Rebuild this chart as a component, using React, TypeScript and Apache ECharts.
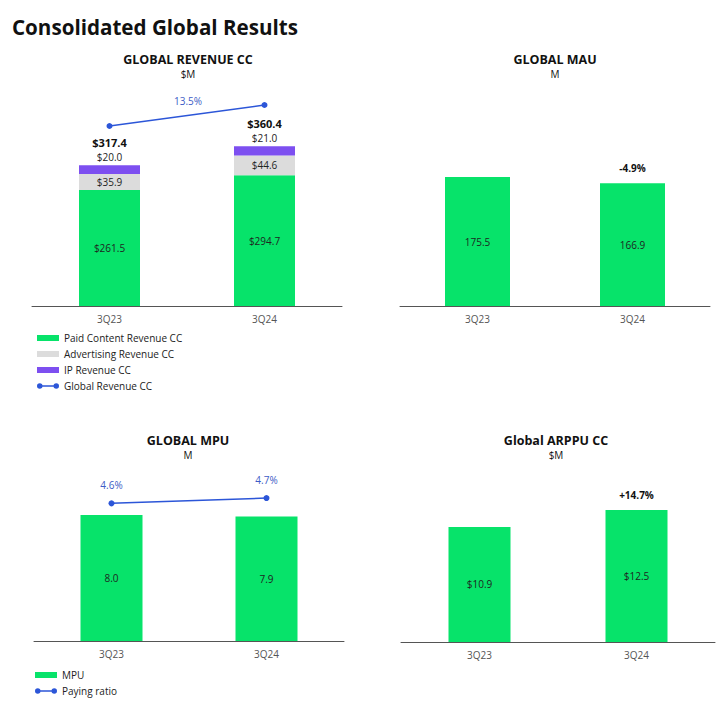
import React, { useEffect, useRef } from "react";
import * as echarts from "echarts";

const quarters = ["3Q23", "3Q24"];
const paidContentRevenue = [261.5, 294.7];
const advertisingRevenue = [35.9, 44.6];
const ipRevenue = [20.0, 21.0];
const globalRevenue = [317.4, 360.4];
const revenueGrowth = "13.5%";
const globalMau = [175.5, 166.9];
const mauChange = ["", "-4.9%"];
const globalMpu = [8.0, 7.9];
const payingRatio = [4.6, 4.7];
const arppu = [10.9, 12.5];
const arppuChange = ["", "+14.7%"];

const GREEN = "#07e36a";
const GRAY = "#dcdcdc";
const PURPLE = "#7d4ff0";
const BLUE = "#2c56d8";
const LABEL_BLUE = "#3d5cc6";
const DARK = "#1e261f";
const FONT = "'Open Sans', 'Noto Sans', sans-serif";

const lineIcon =
  "path://M0,3a3,3 0 1,1 6,0a3,3 0 1,1 -6,0Z M18,3a3,3 0 1,1 6,0a3,3 0 1,1 -6,0Z M5.5,2.3H18.5V3.7H5.5Z";

export default function App() {
  const ref = useRef<HTMLDivElement>(null);

  useEffect(() => {
    if (!ref.current) return;
    const chart = echarts.init(ref.current, null, { renderer: "svg" });

    const xAxisBase = (gridIndex: number) => ({
      type: "category",
      gridIndex,
      data: quarters,
      axisLine: { lineStyle: { color: "#555", width: 1 } },
      axisTick: { show: false },
      axisLabel: { color: "#555", fontSize: 10, fontFamily: FONT, margin: 8 },
    });
    const yHidden = (gridIndex: number, min: number, max: number) => ({
      type: "value",
      gridIndex,
      min,
      max,
      show: false,
      splitLine: { show: false },
    });
    const fmt1 = (p: any) => p.value.toFixed(1);
    const fmtDollar = (p: any) => "$" + p.value.toFixed(1);
    const inside = (formatter: any) => ({
      show: true,
      position: "inside",
      formatter,
      color: DARK,
      fontSize: 10,
      fontFamily: FONT,
    });

    const titleText = (x: number, y: number, text: string, bold: boolean, size: number) => ({
      type: "text",
      x,
      y,
      style: {
        text,
        fill: "#111",
        font: `${bold ? "bold " : ""}${size}px ${FONT}`,
        textAlign: "center",
        textVerticalAlign: "middle",
      },
    });

    const legendText = { fontSize: 10, color: "#222", fontFamily: FONT };
    const lineLegendStyle = { color: BLUE, borderColor: BLUE, borderWidth: 0 };

    const option: any = {
      animation: false,
      backgroundColor: "#ffffff",
      textStyle: { fontFamily: FONT },
      grid: [
        { left: 32, top: 90, width: 310, height: 216 },
        { left: 400, top: 90, width: 310, height: 216 },
        { left: 34, top: 470, width: 310, height: 171 },
        { left: 401, top: 470, width: 314, height: 172 },
      ],
      xAxis: [xAxisBase(0), xAxisBase(1), xAxisBase(2), xAxisBase(3)],
      yAxis: [
        yHidden(0, 0, 487),
        yHidden(0, -51.2, 391.1),
        yHidden(1, 0, 293.9),
        yHidden(2, 0, 10.857),
        yHidden(2, 2.0, 5.23),
        yHidden(3, 0, 16.3),
      ],
      legend: [
        {
          orient: "vertical",
          left: 37,
          top: 333,
          padding: 0,
          itemWidth: 22,
          itemHeight: 6,
          itemGap: 6,
          textStyle: legendText,
          data: [
            { name: "Paid Content Revenue CC", icon: "rect" },
            { name: "Advertising Revenue CC", icon: "rect" },
            { name: "IP Revenue CC", icon: "rect" },
            { name: "Global Revenue CC", icon: lineIcon, itemStyle: lineLegendStyle },
          ],
          selectedMode: false,
        },
        {
          orient: "vertical",
          left: 35,
          top: 670,
          padding: 0,
          itemWidth: 22,
          itemHeight: 6,
          itemGap: 6,
          textStyle: legendText,
          data: [
            { name: "MPU", icon: "rect" },
            { name: "Paying ratio", icon: lineIcon, itemStyle: lineLegendStyle },
          ],
          selectedMode: false,
        },
      ],
      graphic: [
        {
          type: "text",
          x: 12,
          y: 27,
          style: {
            text: "Consolidated Global Results",
            fill: "#111",
            font: `bold 20.6px ${FONT}`,
            textAlign: "left",
            textVerticalAlign: "middle",
          },
        },
        titleText(188, 59, "GLOBAL REVENUE CC", true, 12.5),
        titleText(188, 74, "$M", false, 10),
        titleText(555, 59, "GLOBAL MAU", true, 12.5),
        titleText(555, 74, "M", false, 10),
        titleText(188, 440, "GLOBAL MPU", true, 12.5),
        titleText(188, 455, "M", false, 10),
        titleText(556, 440, "Global ARPPU CC", true, 12.5),
        titleText(556, 455, "$M", false, 10),
        {
          type: "text",
          x: 188,
          y: 101,
          style: {
            text: revenueGrowth,
            fill: LABEL_BLUE,
            font: `10px ${FONT}`,
            textAlign: "center",
            textVerticalAlign: "middle",
          },
        },
      ],
      series: [
        {
          type: "bar",
          name: "Paid Content Revenue CC",
          xAxisIndex: 0,
          yAxisIndex: 0,
          stack: "rev",
          barWidth: 61,
          data: paidContentRevenue,
          itemStyle: { color: GREEN },
          label: inside(fmtDollar),
        },
        {
          type: "bar",
          name: "Advertising Revenue CC",
          xAxisIndex: 0,
          yAxisIndex: 0,
          stack: "rev",
          barWidth: 61,
          data: advertisingRevenue,
          itemStyle: { color: GRAY },
          label: inside(fmtDollar),
        },
        {
          type: "bar",
          name: "IP Revenue CC",
          xAxisIndex: 0,
          yAxisIndex: 0,
          stack: "rev",
          barWidth: 61,
          data: ipRevenue,
          itemStyle: { color: PURPLE },
          label: {
            show: true,
            position: "top",
            distance: 1,
            formatter: (p: any) =>
              `{t|$${globalRevenue[p.dataIndex].toFixed(1)}}\n{v|$${p.value.toFixed(1)}}`,
            rich: {
              t: { fontSize: 11, fontWeight: "bold", color: "#111", lineHeight: 16, fontFamily: FONT },
              v: { fontSize: 10, color: "#222", lineHeight: 14, fontFamily: FONT },
            },
          },
        },
        {
          type: "line",
          name: "Global Revenue CC",
          xAxisIndex: 0,
          yAxisIndex: 1,
          data: globalRevenue,
          symbol: "circle",
          symbolSize: 6,
          itemStyle: { color: BLUE },
          lineStyle: { color: BLUE, width: 1.5 },
        },
        {
          type: "bar",
          name: "MAU",
          xAxisIndex: 1,
          yAxisIndex: 2,
          barWidth: 65,
          data: globalMau,
          itemStyle: { color: GREEN },
          label: inside(fmt1),
        },
        {
          type: "bar",
          name: "MAU change",
          xAxisIndex: 1,
          yAxisIndex: 2,
          barWidth: 65,
          barGap: "-100%",
          silent: true,
          data: globalMau,
          itemStyle: { color: "rgba(0,0,0,0)" },
          label: {
            show: true,
            position: "top",
            distance: 10,
            formatter: (p: any) => mauChange[p.dataIndex],
            color: "#111",
            fontWeight: "bold",
            fontSize: 10,
            fontFamily: FONT,
          },
        },
        {
          type: "bar",
          name: "MPU",
          xAxisIndex: 2,
          yAxisIndex: 3,
          barWidth: 62,
          data: globalMpu,
          itemStyle: { color: GREEN },
          label: inside(fmt1),
        },
        {
          type: "line",
          name: "Paying ratio",
          xAxisIndex: 2,
          yAxisIndex: 4,
          data: payingRatio,
          symbol: "circle",
          symbolSize: 6,
          itemStyle: { color: BLUE },
          lineStyle: { color: BLUE, width: 1.5 },
          label: {
            show: true,
            position: "top",
            distance: 10,
            formatter: (p: any) => p.value.toFixed(1) + "%",
            color: LABEL_BLUE,
            fontSize: 10,
            fontFamily: FONT,
          },
        },
        {
          type: "bar",
          name: "ARPPU",
          xAxisIndex: 3,
          yAxisIndex: 5,
          barWidth: 62,
          data: arppu,
          itemStyle: { color: GREEN },
          label: inside(fmtDollar),
        },
        {
          type: "bar",
          name: "ARPPU change",
          xAxisIndex: 3,
          yAxisIndex: 5,
          barWidth: 62,
          barGap: "-100%",
          silent: true,
          data: arppu,
          itemStyle: { color: "rgba(0,0,0,0)" },
          label: {
            show: true,
            position: "top",
            distance: 10,
            formatter: (p: any) => arppuChange[p.dataIndex],
            color: "#111",
            fontWeight: "bold",
            fontSize: 10,
            fontFamily: FONT,
          },
        },
      ],
    };

    chart.setOption(option);
    return () => chart.dispose();
  }, []);

  return (
    <div
      ref={ref}
      style={{ position: "fixed", left: 0, top: 0, width: 720, height: 708, background: "#fff" }}
    />
  );
}
